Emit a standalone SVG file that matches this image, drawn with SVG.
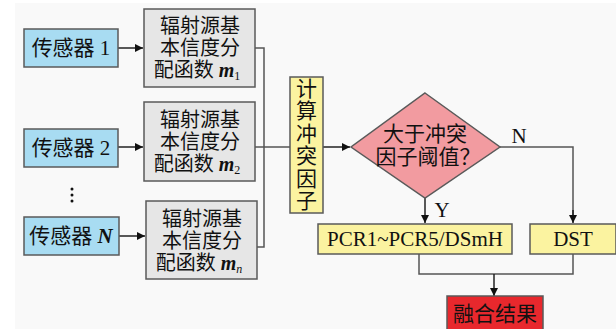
<svg xmlns="http://www.w3.org/2000/svg" width="616" height="329" viewBox="0 0 616 329">
<defs>
<style>
.t{font-family:"Liberation Serif","Noto Sans CJK SC",serif;font-size:21px;fill:#111;text-anchor:middle;dominant-baseline:central}
.gt{font-size:20px}
.box{stroke:#5a5a5a;stroke-width:1.5}
.s{fill:#a8dcf2}
.g{fill:#e6e6e6}
.y{fill:#fbf3a0}
.ln{fill:none;stroke:#555;stroke-width:1.5}
.ar{fill:none;stroke:#222;stroke-width:1.5}
.i{font-style:italic;font-weight:bold}
.sub{font-size:12px;font-style:normal;font-weight:normal}
.subi{font-size:12px;font-style:italic;font-weight:normal}
</style>
<marker id="ah" viewBox="0 0 10 10" refX="10" refY="5" markerWidth="8" markerHeight="8" markerUnits="userSpaceOnUse" orient="auto"><path d="M0,0 L10,5 L0,10 z" fill="#111"/></marker>
</defs>
<rect x="15" y="3" width="601" height="326" fill="#f9f9f9"/>
<g id="connectors">
<line class="ar" x1="118" y1="48" x2="143" y2="48" marker-end="url(#ah)"/>
<line class="ar" x1="118" y1="147" x2="143" y2="147" marker-end="url(#ah)"/>
<line class="ar" x1="119" y1="236" x2="145" y2="236" marker-end="url(#ah)"/>
<polyline class="ln" points="255,48 264,48 264,247 257,247"/>
<line class="ln" x1="255" y1="147" x2="290" y2="147"/>
<line class="ar" x1="323" y1="147" x2="350" y2="147" marker-end="url(#ah)"/>
<line class="ar" x1="425" y1="198" x2="425" y2="223" marker-end="url(#ah)"/>
<polyline class="ln" points="500,147 573,147 573,215"/>
<line class="ar" x1="573" y1="210" x2="573" y2="223" marker-end="url(#ah)"/>
<polyline class="ln" points="419,254 419,274 573,274 573,254"/>
<line class="ar" x1="494" y1="274" x2="494" y2="296" marker-end="url(#ah)"/>
<text class="t" x="519" y="136" font-size="19">N</text>
<text class="t" x="442" y="210" font-size="19">Y</text>
</g>
<g id="sensor1"><rect class="box s" x="24" y="29" width="94" height="38"/><text class="t" x="71" y="48">传感器 1</text></g>
<g id="sensor2"><rect class="box s" x="24" y="129" width="94" height="38"/><text class="t" x="71" y="148">传感器 2</text></g>
<g id="dots"><circle cx="72" cy="189" r="1.5" fill="#111"/><circle cx="72" cy="195" r="1.5" fill="#111"/><circle cx="72" cy="201" r="1.5" fill="#111"/></g>
<g id="sensorN"><rect class="box s" x="24" y="217" width="95" height="38"/><text class="t" x="71" y="236">传感器 <tspan class="i">N</tspan></text></g>
<g id="m1"><rect class="box g" x="144" y="9" width="111" height="78"/>
<text class="t gt" x="200" y="26">辐射源基</text><text class="t gt" x="200" y="48">本信度分</text><text class="t gt" x="197" y="70">配函数 <tspan class="i">m</tspan><tspan class="sub" dy="6">1</tspan></text></g>
<g id="m2"><rect class="box g" x="144" y="102" width="111" height="79"/>
<text class="t gt" x="200" y="120">辐射源基</text><text class="t gt" x="200" y="142">本信度分</text><text class="t gt" x="197" y="164">配函数 <tspan class="i">m</tspan><tspan class="sub" dy="6">2</tspan></text></g>
<g id="mn"><rect class="box g" x="146" y="201" width="111" height="78"/>
<text class="t gt" x="202" y="219">辐射源基</text><text class="t gt" x="202" y="241">本信度分</text><text class="t gt" x="199" y="263">配函数 <tspan class="i">m</tspan><tspan class="subi" dy="6">n</tspan></text></g>
<g id="calc"><rect class="box y" x="290" y="77" width="33" height="136"/>
<text class="t" x="306.5" y="89">计</text><text class="t" x="306.5" y="111">算</text><text class="t" x="306.5" y="134">冲</text><text class="t" x="306.5" y="156">突</text><text class="t" x="306.5" y="179">因</text><text class="t" x="306.5" y="201">子</text></g>
<g id="decision"><polygon class="box" fill="#f29ba0" points="425,93 500,147 425,198 351,147"/>
<text class="t" x="425" y="134">大于冲突</text><text class="t" x="428" y="157">因子阈值？</text></g>
<g id="pcr"><rect class="box y" x="318" y="224" width="194" height="30"/><text class="t" x="415" y="239">PCR1~PCR5/DSmH</text></g>
<g id="dst"><rect class="box y" x="530" y="224" width="86" height="30"/><text class="t" x="573" y="239">DST</text></g>
<g id="result"><rect class="box" fill="#e8282d" x="447" y="296" width="96" height="36"/><text class="t" x="495" y="314">融合结果</text></g>
</svg>
